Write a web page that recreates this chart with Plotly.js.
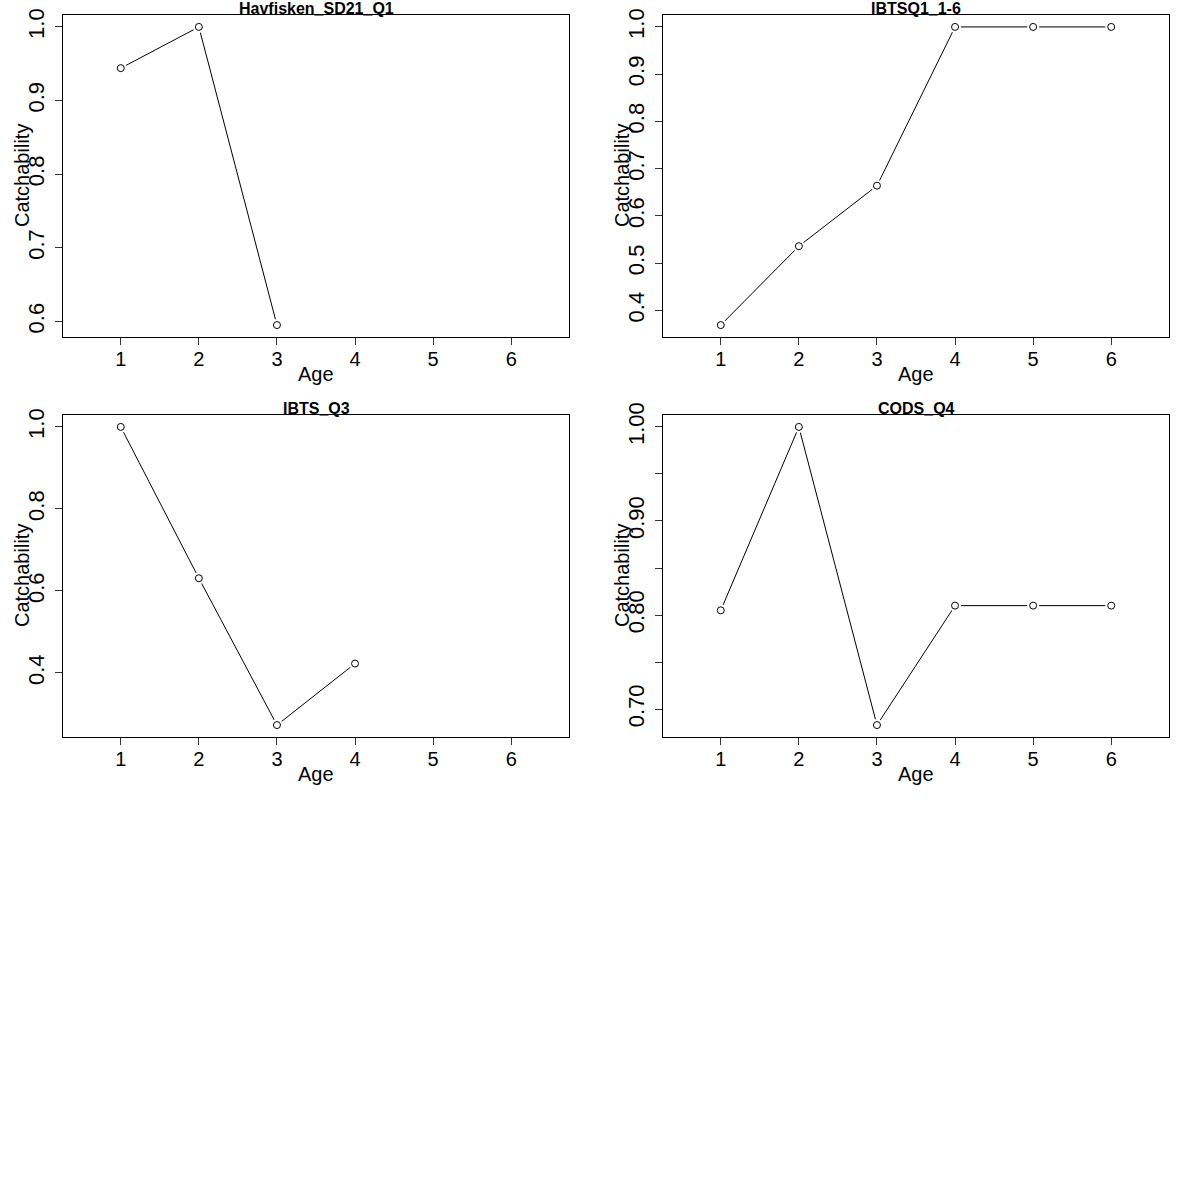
<!DOCTYPE html>
<html>
<head>
<meta charset="utf-8">
<script src="https://cdn.plot.ly/plotly-3.0.1.min.js"></script>
<style>html,body{margin:0;padding:0;background:#fff;}#chart{width:1200px;height:1200px;}</style>
</head>
<body>
<div id="chart"></div>
<script>
// ---- data ----
const panelTitles = ["Havfisken_SD21_Q1", "IBTSQ1_1-6", "IBTS_Q3", "CODS_Q4"];
const havfiskenAges = [1, 2, 3];
const havfiskenQ = [0.944, 1.0, 0.595];
const ibtsq1Ages = [1, 2, 3, 4, 5, 6];
const ibtsq1Q = [0.369, 0.536, 0.664, 1.0, 1.0, 1.0];
const ibtsq3Ages = [1, 2, 3, 4];
const ibtsq3Q = [1.0, 0.631, 0.273, 0.423];
const codsq4Ages = [1, 2, 3, 4, 5, 6];
const codsq4Q = [0.805, 1.0, 0.683, 0.810, 0.810, 0.810];
const xTickVals = [1, 2, 3, 4, 5, 6];
const xTickText = ["1", "2", "3", "4", "5", "6"];
const yTicks1 = [0.6, 0.7, 0.8, 0.9, 1.0];
const yTicks2 = [0.4, 0.5, 0.6, 0.7, 0.8, 0.9, 1.0];
const yTicks3 = [0.4, 0.6, 0.8, 1.0];
const yTicks4 = [0.70, 0.75, 0.80, 0.85, 0.90, 0.95, 1.00];
const yTickText4 = ["0.70", "", "0.80", "", "0.90", "", "1.00"];
const xLabel = "Age";
const yLabel = "Catchability";

const FONT = "Liberation Sans, Arial, Helvetica, sans-serif";
const NARROW = "Liberation Sans Narrow, Arial Narrow, Liberation Sans, sans-serif";
const panels = [
  {ages: havfiskenAges, q: havfiskenQ, ticks: yTicks1, text: yTicks1.map(v => v.toFixed(1))},
  {ages: ibtsq1Ages, q: ibtsq1Q, ticks: yTicks2, text: yTicks2.map(v => v.toFixed(1))},
  {ages: ibtsq3Ages, q: ibtsq3Q, ticks: yTicks3, text: yTicks3.map(v => v.toFixed(1))},
  {ages: codsq4Ages, q: codsq4Q, ticks: yTicks4, text: yTickText4}
];

// R-style 4% range extension
function rRange(arr) {
  const lo = Math.min(...arr), hi = Math.max(...arr);
  const d = (hi - lo) * 0.04;
  return [lo - d, hi + d];
}
const xRange = (function(){ const d = (6.5 - 0.5) * 0.04; return [0.5 - d, 6.5 + d]; })();

const W = 1200, H = 1200;
const xDomains = [[63 / W, 569 / W], [663 / W, 1169 / W]];
const yDomains = [[1 - 337 / H, 1 - 15 / H], [1 - 737 / H, 1 - 415 / H]];

const data = [];
const layout = {
  width: W, height: H,
  margin: {l: 0, r: 0, t: 0, b: 0, pad: 0},
  paper_bgcolor: "#ffffff", plot_bgcolor: "#ffffff",
  showlegend: false,
  font: {family: FONT, color: "#000000", size: 20},
  annotations: []
};

panels.forEach((p, i) => {
  const n = i + 1;
  const xa = n === 1 ? "x" : "x" + n;
  const ya = n === 1 ? "y" : "y" + n;
  const xKey = n === 1 ? "xaxis" : "xaxis" + n;
  const yKey = n === 1 ? "yaxis" : "yaxis" + n;
  const col = i % 2, row = Math.floor(i / 2);

  data.push({x: p.ages, y: p.q, xaxis: xa, yaxis: ya, type: "scatter", mode: "lines",
    line: {color: "#000000", width: 1}, hoverinfo: "skip"});
  data.push({x: p.ages, y: p.q, xaxis: xa, yaxis: ya, type: "scatter", mode: "markers",
    marker: {symbol: "circle", size: 12, color: "#ffffff", line: {width: 0}}, hoverinfo: "skip"});
  data.push({x: p.ages, y: p.q, xaxis: xa, yaxis: ya, type: "scatter", mode: "markers",
    marker: {symbol: "circle-open", size: 7, color: "#000000", line: {width: 1, color: "#000000"}}, hoverinfo: "skip"});

  layout[xKey] = {
    domain: xDomains[col], anchor: ya, range: xRange,
    tickmode: "array", tickvals: xTickVals, ticktext: xTickText,
    ticks: "outside", ticklen: 7, tickwidth: 1, tickcolor: "#333333",
    showline: true, mirror: true, linecolor: "#000000", linewidth: 1,
    showgrid: false, zeroline: false, fixedrange: true,
    tickfont: {family: FONT, size: 20, color: "#000000"}, ticklabelstandoff: -3
  };
  layout[yKey] = {
    domain: yDomains[row], anchor: xa, range: rRange(p.q),
    tickmode: "array", tickvals: p.ticks, ticktext: p.text,
    ticks: "outside", ticklen: 7, tickwidth: 1, tickcolor: "#333333",
    showline: true, mirror: true, linecolor: "#000000", linewidth: 1,
    showgrid: false, zeroline: false, fixedrange: true, tickangle: -90,
    tickfont: {family: NARROW, size: 22, color: "#000000"}, ticklabelstandoff: 2
  };

  layout.annotations.push({
    text: "<b>" + panelTitles[i] + "</b>", xref: xa + " domain", yref: ya + " domain",
    x: 0.5, y: 1, xanchor: "center", yanchor: "bottom", yshift: -4, showarrow: false,
    font: {family: FONT, size: 16, color: "#000000"}
  });
  layout.annotations.push({
    text: xLabel, xref: xa + " domain", yref: ya + " domain",
    x: 0.5, y: 0, xanchor: "center", yanchor: "middle", yshift: -37, showarrow: false,
    font: {family: FONT, size: 20, color: "#000000"}
  });
  layout.annotations.push({
    text: yLabel, xref: xa + " domain", yref: ya + " domain",
    x: 0, y: 0.5, xanchor: "center", yanchor: "middle", xshift: -41, textangle: -90, showarrow: false,
    font: {family: FONT, size: 20, color: "#000000"}
  });
});

Plotly.newPlot("chart", data, layout, {staticPlot: true, displayModeBar: false});
</script>
</body>
</html>
